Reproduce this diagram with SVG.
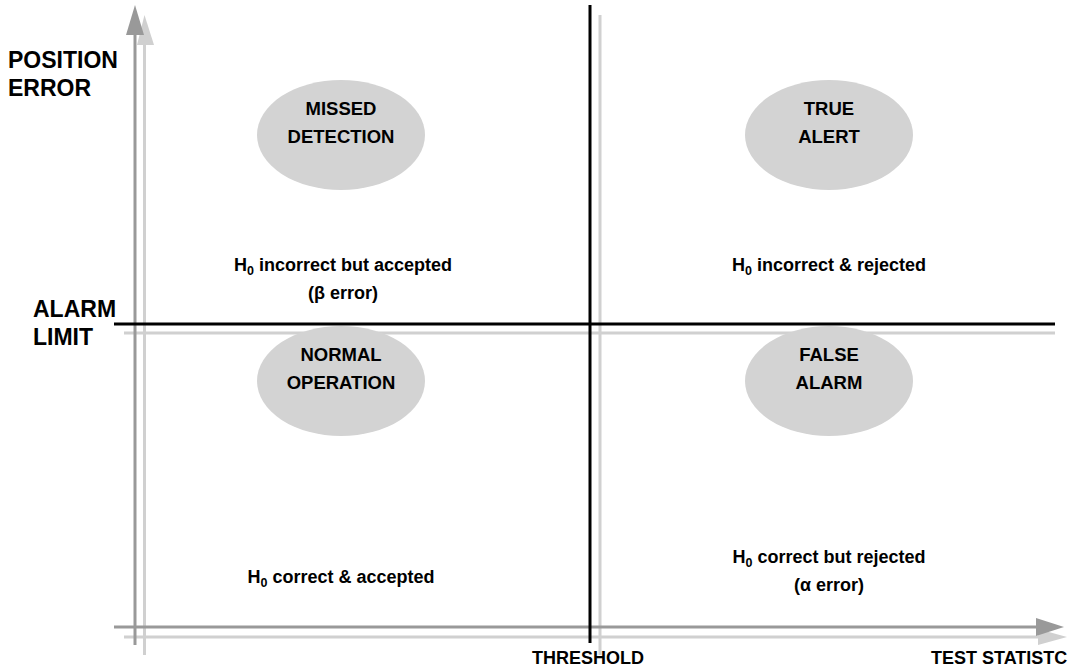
<svg xmlns="http://www.w3.org/2000/svg" width="1069" height="671" viewBox="0 0 1069 671">
<defs>
<style>
text{font-family:"Liberation Sans",Arial,sans-serif;font-weight:bold;font-size:18px;fill:#000}
.c{text-anchor:middle}
.e{font-size:18.5px}
.ax{font-size:23px}
.sub{font-size:12.5px}
.ell{fill:#d3d3d3}
.dk{stroke:#999;stroke-width:3;fill:none}
.lt{stroke:#d0d0d0;stroke-width:3;fill:none}
.bk{stroke:#000;stroke-width:3;fill:none}
</style>
</defs>
<rect width="1069" height="671" fill="#fff"/>
<g id="connectors">
<line class="lt" x1="144.5" y1="40" x2="144.5" y2="655"/>
<polygon points="144.5,15 137,45 154,45" fill="#d0d0d0"/>
<line class="lt" x1="124" y1="637" x2="1042" y2="637"/>
<polygon points="1067,637 1038,629 1038,645" fill="#d0d0d0"/>
<line class="lt" x1="600" y1="15" x2="600" y2="655"/>
<line class="lt" x1="124" y1="333" x2="1055" y2="333"/>
<line class="dk" x1="135" y1="30" x2="135" y2="645"/>
<polygon points="135,5 126,35 144,35" fill="#999"/>
<line class="dk" x1="114" y1="627" x2="1040" y2="627"/>
<polygon points="1064,627 1036,618 1036,636" fill="#999"/>
<line class="bk" x1="114" y1="324" x2="1055" y2="324"/>
<line class="bk" x1="590" y1="5" x2="590" y2="643"/>
</g>
<g id="missed-detection">
<ellipse class="ell" cx="341" cy="135" rx="84" ry="55"/>
<text class="c e" x="341" y="115">MISSED</text>
<text class="c e" x="341" y="143">DETECTION</text>
</g>
<g id="true-alert">
<ellipse class="ell" cx="829" cy="135" rx="84" ry="55"/>
<text class="c e" x="829" y="115">TRUE</text>
<text class="c e" x="829" y="143">ALERT</text>
</g>
<g id="normal-operation">
<ellipse class="ell" cx="341" cy="381" rx="84" ry="55"/>
<text class="c e" x="341" y="361">NORMAL</text>
<text class="c e" x="341" y="389">OPERATION</text>
</g>
<g id="false-alarm">
<ellipse class="ell" cx="829" cy="381" rx="84" ry="55"/>
<text class="c e" x="829" y="361">FALSE</text>
<text class="c e" x="829" y="389">ALARM</text>
</g>
<g id="labels">
<text class="c" x="343" y="271">H<tspan class="sub" dy="4">0</tspan><tspan dy="-4"> incorrect but accepted</tspan></text>
<text class="c" x="343" y="299">(β error)</text>
<text class="c" x="829" y="271">H<tspan class="sub" dy="4">0</tspan><tspan dy="-4"> incorrect &amp; rejected</tspan></text>
<text class="c" x="341" y="583">H<tspan class="sub" dy="4">0</tspan><tspan dy="-4"> correct &amp; accepted</tspan></text>
<text class="c" x="829" y="563">H<tspan class="sub" dy="4">0</tspan><tspan dy="-4"> correct but rejected</tspan></text>
<text class="c" x="829" y="591">(α error)</text>
<text class="ax" x="8" y="68">POSITION</text>
<text class="ax" x="8" y="96">ERROR</text>
<text class="ax" x="33" y="317">ALARM</text>
<text class="ax" x="33" y="345">LIMIT</text>
<text x="532" y="664">THRESHOLD</text>
<text x="931" y="664">TEST STATISTC</text>
</g>
</svg>
